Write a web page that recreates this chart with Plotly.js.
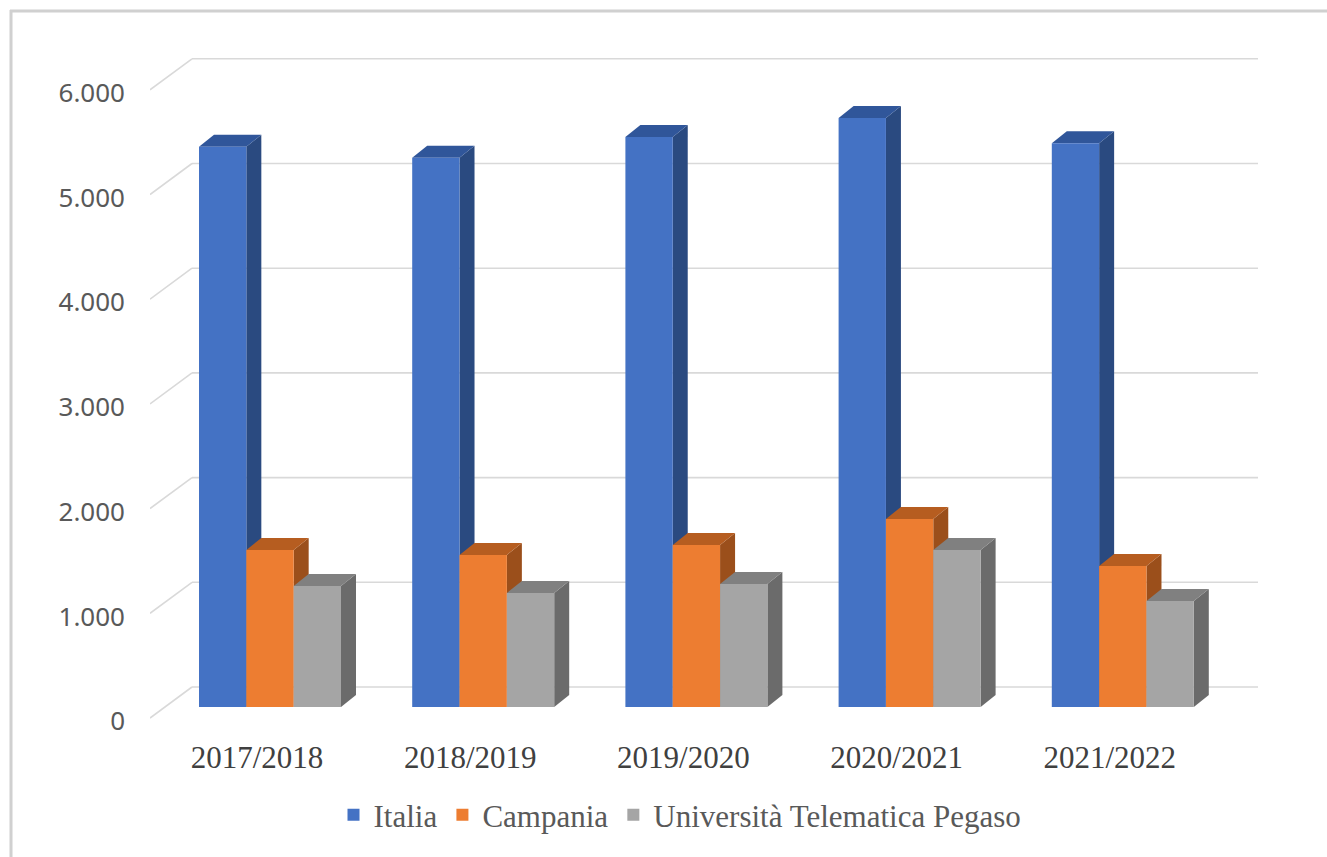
<!DOCTYPE html>
<html><head><meta charset="utf-8">
<script src="https://cdn.plot.ly/plotly-3.0.1.min.js"></script>
<style>html,body{margin:0;padding:0;background:#fff}</style>
</head><body><div id="chart" style="width:1327px;height:857px"></div>
<script>
// ---- data ----
const categories = ['2017/2018','2018/2019','2019/2020','2020/2021','2021/2022'];
const italia   = [5350, 5245, 5445, 5625, 5385];
const campania = [1500, 1452, 1547, 1796, 1347];
const pegaso   = [1156, 1090, 1175, 1500, 1012];
const seriesNames = ['Italia','Campania','Università Telematica Pegaso'];
const yTicks = [0,1000,2000,3000,4000,5000,6000];

// ---- style ----
const frontColors = ['#4472C4','#ED7D31','#A5A5A5'];
const topColors   = ['#30569A','#B65D20','#808080'];
const sideColors  = ['#2A4A80','#9B4F1B','#6B6B6B'];

const W=1327,H=857;
const M={l:150,r:69,t:50,b:132};
const plotW=W-M.l-M.r, plotH=H-M.t-M.b;
const pxPerCat=213.2, pxPerUnit=0.1047;
const xStart=-(270-M.l)/pxPerCat;
const xRange=[xStart, xStart+plotW/pxPerCat];
const yRange=[-(H-M.b-707)/pxPerUnit, (707-M.t)/pxPerUnit];
const bargap=1-142/pxPerCat;
const barW=(1-bargap)/3;
const dx=15/pxPerCat, dy=12/pxPerUnit;
const backDx=42/pxPerCat, backDy=20/pxPerUnit, frontDy=-11/pxPerUnit;
const labelDy=-135;

const series=[italia,campania,pegaso];
const xIdx=categories.map((c,i)=>i);
const fmt=v=>String(v).replace(/\B(?=(\d{3})+(?!\d))/g,'.');

const shapes=[];
// back wall gridlines + side diagonal
yTicks.forEach(v=>{
  shapes.push({type:'line',xref:'x',yref:'y',layer:'below',x0:xStart+backDx,x1:xRange[1],y0:v+backDy,y1:v+backDy,line:{color:'#D9D9D9',width:1.6}});
  shapes.push({type:'line',xref:'x',yref:'y',layer:'below',x0:xStart,x1:xStart+backDx,y0:v+frontDy,y1:v+backDy,line:{color:'#D9D9D9',width:1.6}});
});
// 3D faces
series.forEach((vals,s)=>{
  vals.forEach((v,i)=>{
    const c=xIdx[i]+(s-1)*barW, L=c-barW/2, R=c+barW/2;
    shapes.push({type:'path',xref:'x',yref:'y',layer:'below',line:{width:0},fillcolor:sideColors[s],
      path:`M${R},0 L${R},${v} L${R+dx},${v+dy} L${R+dx},${dy} Z`});
    shapes.push({type:'path',xref:'x',yref:'y',layer:'below',line:{width:0},fillcolor:topColors[s],
      path:`M${L},${v} L${R},${v} L${R+dx},${v+dy} L${L+dx},${v+dy} Z`});
  });
});
// chart border (top + left)
const px2x=p=>(p-M.l)/plotW, py2y=p=>(H-M.b-p)/plotH;
shapes.push({type:'line',xref:'paper',yref:'paper',x0:px2x(10),x1:px2x(W),y0:py2y(11),y1:py2y(11),line:{color:'#D0D0D0',width:3}});
shapes.push({type:'line',xref:'paper',yref:'paper',x0:px2x(11),x1:px2x(11),y0:py2y(10),y1:py2y(H),line:{color:'#D0D0D0',width:3}});

const traces=series.map((vals,s)=>({
  type:'bar',name:seriesNames[s],x:xIdx,y:vals,
  marker:{color:frontColors[s],line:{width:0}},hoverinfo:'x+y'
}));

const layout={
  width:W,height:H,margin:M,paper_bgcolor:'#fff',plot_bgcolor:'rgba(0,0,0,0)',
  barmode:'group',bargap:bargap,bargroupgap:0,
  xaxis:{type:'linear',range:xRange,tickvals:xIdx.map(i=>i-13/pxPerCat),ticktext:categories,
    showgrid:false,zeroline:false,showline:false,ticks:'',ticklabelstandoff:11,
    tickfont:{family:'Liberation Serif, serif',size:31,color:'#404040'}},
  yaxis:{range:yRange,tickvals:yTicks.map(v=>v+labelDy),ticktext:yTicks.map(fmt),
    showgrid:false,zeroline:false,showline:false,ticks:'',ticklabelstandoff:24,
    tickfont:{family:'Noto Sans, sans-serif',size:26,color:'#595959'}},
  showlegend:true,
  legend:{orientation:'h',x:px2x(680),xanchor:'center',y:py2y(815),yanchor:'middle',
    font:{family:'Liberation Serif, serif',size:31,color:'#595959'},itemclick:false},
  shapes:shapes
};
Plotly.newPlot('chart',traces,layout,{displayModeBar:false,staticPlot:true});
</script></body></html>
